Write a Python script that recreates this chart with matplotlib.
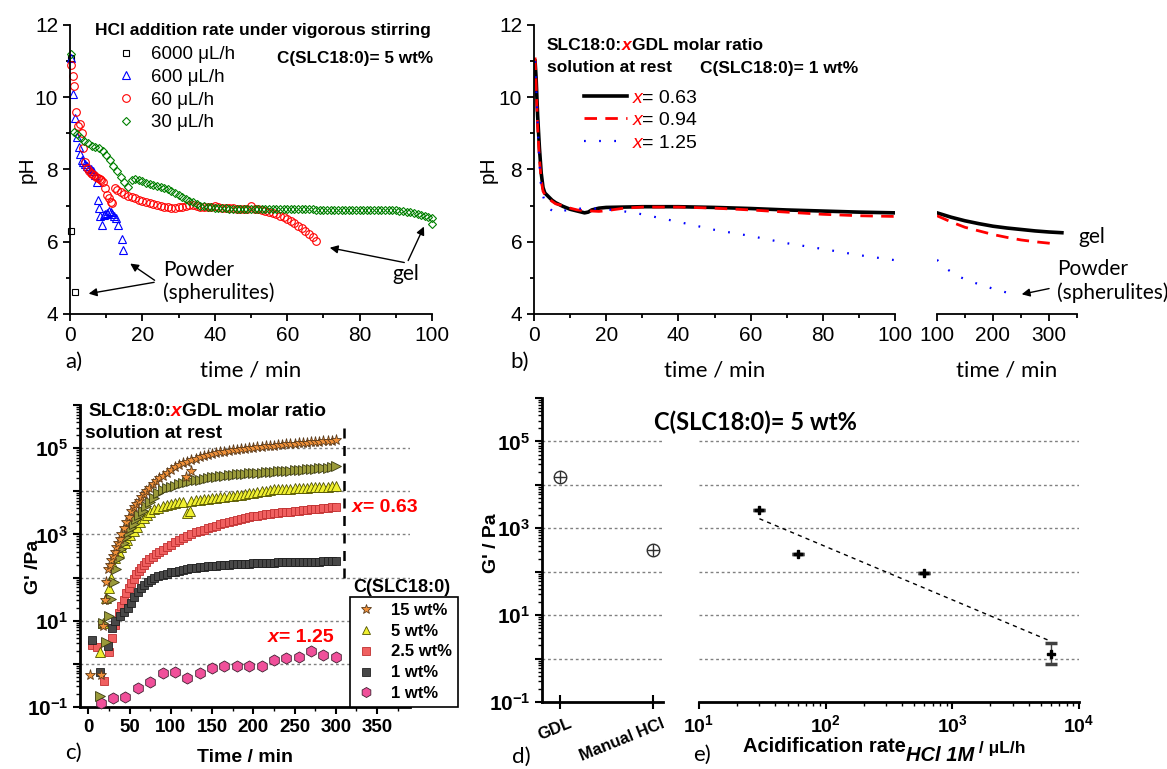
import numpy as np
import matplotlib
matplotlib.use('Agg')
import matplotlib.pyplot as plt
from matplotlib.ticker import MultipleLocator, LogLocator, NullFormatter, FuncFormatter, FixedLocator

W, H = 1167, 769
plt.rcParams['font.family'] = ['Liberation Sans', 'DejaVu Sans']
plt.rcParams['mathtext.fontset'] = 'custom'
plt.rcParams['mathtext.rm'] = 'Liberation Sans'
plt.rcParams['mathtext.bf'] = 'Liberation Sans:bold'
plt.rcParams['mathtext.it'] = 'Liberation Sans:italic'
CAL = ['Lato', 'DejaVu Sans']

# ---------------- a) pH vs time, HCl addition rate ----------------
t6000 = [0.2, 0.4, 1.4]
ph6000 = [11.1, 6.3, 4.6]

t600 = [0.3, 0.9, 1.4, 2.0, 2.5, 2.8, 3.2, 3.7, 4.2, 4.8, 5.3, 5.8, 6.3, 6.8, 7.4,
        7.6, 7.9, 8.3, 8.9, 9.3, 9.8, 10.3, 10.8, 11.2, 11.7, 12.2, 12.7, 13.3, 14.3, 14.7]
ph600 = [11.1, 10.1, 9.42, 8.9, 8.62, 8.43, 8.25, 8.2, 8.15, 8.1, 8.05, 8.0, 7.95, 7.85, 7.66,
         7.15, 6.93, 6.7, 6.46, 6.75, 6.78, 6.8, 6.85, 6.82, 6.78, 6.72, 6.65, 6.47, 6.07, 5.77]

t60 = [0.2, 0.7, 1.2, 1.7, 2.2, 2.7, 3.2, 3.7, 4.2, 4.7, 5.2, 5.7, 6.2, 6.7, 7.2, 7.7, 8.2,
       8.7, 9.2, 9.7, 10.2, 10.7, 11.2, 11.7, 12.4] + list(range(13, 69))
ph60 = [10.9, 10.6, 10.3, 9.6, 9.2, 9.25, 9.0, 8.6, 8.2, 8.05, 7.95, 7.9, 7.88, 7.85, 7.8,
        7.76, 7.73, 7.7, 7.66, 7.5, 7.3, 7.2, 7.1, 7.06, 7.48,
        7.42, 7.37, 7.32, 7.28, 7.24, 7.2, 7.16, 7.13,
        7.1, 7.07, 7.04, 7.01, 6.99, 6.97, 6.95, 6.94, 6.94, 6.95,
        6.97, 6.99, 7.01, 7.01, 6.99, 6.97, 6.96, 6.95, 6.95, 7.0,
        6.95, 6.94, 6.94, 6.93, 6.93, 6.92, 6.92, 6.92, 6.91, 6.98,
        6.91, 6.9, 6.88, 6.86, 6.83, 6.8, 6.76, 6.72, 6.68, 6.64,
        6.58, 6.51, 6.44, 6.37, 6.3, 6.22, 6.12, 6.03]

t30 = [0.2] + list(range(1, 101)) + [100]
ph30 = [11.2,
        9.05, 8.98, 8.88, 8.78, 8.72, 8.66, 8.63, 8.6, 8.52, 8.4,
        8.26, 8.1, 7.95, 7.8, 7.65, 7.52, 7.7, 7.74, 7.7, 7.67,
        7.64, 7.6, 7.57, 7.54, 7.51, 7.48, 7.45, 7.4, 7.35, 7.3,
        7.25, 7.19, 7.14, 7.09, 7.04, 7.0, 6.98, 6.96, 6.95, 6.94,
        6.94, 6.93, 6.93, 6.92, 6.92, 6.92, 6.91, 6.91, 6.91, 6.91,
        6.9, 6.91, 6.9, 6.9, 6.91, 6.9, 6.9, 6.9, 6.9, 6.9,
        6.9, 6.91, 6.91, 6.9, 6.9, 6.9, 6.9, 6.89, 6.89, 6.89,
        6.89, 6.89, 6.89, 6.88, 6.88, 6.88, 6.88, 6.88, 6.88, 6.88,
        6.88, 6.87, 6.87, 6.87, 6.87, 6.87, 6.87, 6.87, 6.87, 6.87,
        6.86, 6.85, 6.83, 6.81, 6.79, 6.77, 6.75, 6.72, 6.69, 6.65,
        6.48]

# ---------------- b) pH vs time, GDL ----------------
tb_black = [0.3, 0.6, 1, 1.5, 2, 2.5, 3, 4, 5, 6, 8, 10, 12, 14, 15, 16, 18, 20, 25, 30,
            40, 50, 60, 70, 80, 90, 100]
phb_black = [11.0, 10.5, 9.5, 8.6, 7.9, 7.5, 7.35, 7.25, 7.15, 7.08, 6.98, 6.9, 6.85, 6.8,
             6.82, 6.88, 6.93, 6.95, 6.96, 6.97, 6.97, 6.95, 6.92, 6.88, 6.85, 6.82, 6.8]
tb_red = tb_black
phb_red = [11.1, 10.3, 9.2, 8.3, 7.7, 7.4, 7.3, 7.2, 7.12, 7.05, 7.0, 6.93, 6.88, 6.86,
           6.87, 6.85, 6.84, 6.86, 6.93, 6.96, 6.96, 6.93, 6.88, 6.82, 6.76, 6.72, 6.7]
tb_blue = [0.3, 0.6, 1, 1.5, 2, 3, 4, 6, 8, 10, 15, 20, 25, 30, 40, 50, 60, 70, 80, 90, 100]
phb_blue = [11.0, 10.3, 9.3, 8.2, 7.45, 7.1, 6.93, 6.8, 6.85, 6.9, 6.93, 6.9, 6.84, 6.76,
            6.55, 6.33, 6.16, 5.96, 5.8, 5.63, 5.49]

tb2_black = [100, 125, 150, 175, 200, 225, 250, 275, 300, 323]
phb2_black = [6.8, 6.68, 6.58, 6.5, 6.43, 6.38, 6.34, 6.3, 6.27, 6.25]
tb2_red = [100, 125, 150, 175, 200, 225, 250, 275, 300, 315]
phb2_red = [6.72, 6.55, 6.4, 6.3, 6.2, 6.12, 6.05, 6.0, 5.96, 5.93]
tb2_blue = [100, 120, 140, 160, 180, 200, 230]
phb2_blue = [5.5, 5.22, 5.03, 4.9, 4.8, 4.7, 4.57]
ratios = ['0.63', '0.94', '1.25']

# ---------------- c) G' vs time ----------------
tc15 = [2, 15, 18, 20, 22, 24, 26, 28, 30, 32, 34, 36, 38, 40, 43, 46, 49, 52, 55, 58, 61,
        64, 67, 70, 74, 78, 82, 86, 90, 95, 100, 105, 110, 115, 120, 125, 130, 135, 140,
        145, 150, 155, 160, 165, 170, 175, 180, 185, 190, 195, 200, 205, 210, 215, 220, 225,
        230, 235, 240, 245, 250, 255, 260, 265, 270, 275, 280, 285, 290, 295, 300,
        118, 124]
gc15 = [0.55, 0.55, 7.5, 30, 80, 160, 200, 250, 320, 400, 500, 630, 800, 1000, 1400, 1900,
        2600, 3500, 4300, 5200, 6000, 7200, 8500, 1.0e4, 1.2e4, 1.45e4, 1.7e4, 2.0e4, 2.3e4,
        2.7e4, 3.1e4, 3.6e4, 4.0e4, 4.5e4, 4.9e4, 5.3e4, 5.7e4, 6.1e4, 6.5e4, 6.9e4,
        7.3e4, 7.65e4, 8.0e4, 8.3e4, 8.6e4, 8.9e4, 9.2e4, 9.5e4, 9.8e4, 1.0e5, 1.03e5,
        1.05e5, 1.08e5, 1.1e5, 1.12e5, 1.15e5, 1.17e5, 1.2e5, 1.22e5, 1.25e5, 1.27e5,
        1.3e5, 1.32e5, 1.35e5, 1.37e5, 1.4e5, 1.42e5, 1.45e5, 1.48e5, 1.5e5, 1.55e5,
        2.2e4, 3.0e4]

tc_olive = [14, 18, 21, 25, 28, 31, 34, 37, 40, 43, 46, 49, 52, 55, 58, 62, 66, 70, 75, 80,
            85, 90, 95, 100, 105, 110, 115, 120, 125, 130, 135, 140, 145, 150, 155, 160, 165,
            170, 175, 180, 185, 190, 195, 200, 205, 210, 215, 220, 225, 230, 235, 240, 245,
            250, 255, 260, 265, 270, 275, 280, 285, 290, 295, 300]
gc_olive = [0.18, 8.9, 3.2, 12.6, 32, 79, 160, 280, 450, 630, 890, 1120, 1410, 1780, 2240,
            2820, 3550, 4470, 5620, 7080, 8910, 1.05e4, 1.17e4, 1.26e4, 1.35e4, 1.45e4, 1.55e4,
            1.62e4, 1.7e4, 1.78e4, 1.86e4, 1.95e4, 2.02e4, 2.09e4, 2.16e4, 2.24e4, 2.29e4,
            2.34e4, 2.4e4, 2.45e4, 2.51e4, 2.57e4, 2.6e4, 2.63e4, 2.66e4, 2.69e4, 2.75e4,
            2.82e4, 2.85e4, 2.88e4, 2.92e4, 2.95e4, 3.02e4, 3.09e4, 3.12e4, 3.16e4, 3.24e4,
            3.31e4, 3.35e4, 3.39e4, 3.47e4, 3.55e4, 3.65e4, 3.8e4]

tc5 = [14, 18, 22, 25, 28, 30, 33, 37, 40, 44, 47, 51, 55, 59, 63, 67, 71, 75, 80, 85, 90,
       95, 100, 105, 110, 115, 120, 123, 125, 130, 135, 140, 145, 150, 155, 160, 165, 170,
       175, 180, 185, 190, 195, 200, 205, 210, 215, 220, 225, 230, 235, 240, 245, 250, 255,
       260, 265, 270, 275, 280, 285, 290, 295, 300]
gc5 = [1.9, 8.9, 34, 56, 100, 200, 280, 400, 500, 630, 760, 950, 1200, 1510, 1900, 2400,
       2880, 3310, 3800, 4170, 4470, 4700, 5010, 5250, 5500, 5750, 3160, 3550, 6030, 6310,
       6450, 6610, 6760, 6920, 7080, 7240, 7410, 7590, 7850, 8130, 8420, 8710, 9020, 9330,
       9660, 1.0e4, 1.03e4, 1.07e4, 1.1e4, 1.12e4, 1.13e4, 1.15e4, 1.16e4, 1.17e4, 1.19e4,
       1.2e4, 1.22e4, 1.23e4, 1.25e4, 1.26e4, 1.28e4, 1.29e4, 1.31e4, 1.32e4]

tc25 = [5, 10, 19, 25, 29, 33, 37, 40, 43, 46, 49, 52, 55, 58, 61, 64, 67, 70, 74, 78, 82,
        86, 90, 95, 100, 105, 110, 115, 120, 125, 130, 135, 140, 145, 150, 155, 160, 165,
        170, 175, 180, 185, 190, 195, 200, 205, 210, 215, 220, 225, 230, 235, 240, 245, 250,
        255, 260, 265, 270, 275, 280, 285, 290, 295, 300]
gc25 = [2.8, 2.4, 0.39, 1.9, 4.0, 8.1, 15.5, 22.4, 30.9, 44.7, 56, 74, 95, 120, 145, 170,
        195, 224, 263, 302, 347, 389, 437, 501, 575, 661, 741, 832, 933, 1020, 1120, 1200,
        1290, 1380, 1480, 1590, 1700, 1820, 1950, 2070, 2190, 2290, 2400, 2510, 2630, 2720,
        2820, 2920, 3020, 3090, 3160, 3230, 3310, 3390, 3470, 3550, 3630, 3710, 3800, 3890,
        3980, 4070, 4170, 4270, 4370]

tc1 = [4, 14, 24, 29, 33, 38, 43, 48, 52, 56, 60, 64, 68, 72, 76, 80, 85, 90, 95, 100, 105,
       110, 115, 120, 125, 130, 135, 140, 145, 150, 155, 160, 165, 170, 175, 180, 185, 190,
       195, 200, 205, 210, 215, 220, 225, 230, 235, 240, 245, 250, 255, 260, 265, 270, 275,
       280, 285, 290, 295, 300]
gc1 = [3.6, 0.65, 2.6, 6.9, 10, 12.6, 15.8, 20, 26, 35, 46, 58, 69, 79, 89, 98, 107, 115,
       123, 132, 138, 145, 151, 158, 164, 170, 174, 178, 182, 186, 190, 195, 197, 200, 202,
       204, 207, 209, 211, 214, 216, 219, 219, 219, 222, 224, 224, 224, 227, 229, 229, 229,
       232, 234, 234, 234, 237, 240, 240, 240]

tc1b = [15, 30, 45, 60, 75, 90, 105, 120, 135, 150, 165, 180, 195, 210, 225, 240, 255, 270,
        285, 300]
gc1b = [0.126, 0.16, 0.17, 0.275, 0.37, 0.62, 0.66, 0.47, 0.63, 0.79, 0.89, 0.89, 0.89,
        0.89, 1.2, 1.38, 1.41, 1.95, 1.62, 1.48]

c_labels = ['15 wt%', '5 wt%', '2.5 wt%', '1 wt%', '1 wt%']
cut_time = 310
cut_range = (1e2, 3.2e5)

# ---------------- d) / e) G' vs acidification ----------------
methods = ['GDL', 'Manual HCl']
g_method = [15500, 316]
rates = [30, 60, 600, 6000]
g_rate = [2700, 260, 93, 1.25]
g_rate_lo = [0, 0, 0, 0.5]
g_rate_hi = [0, 0, 0, 1.05]
fit_rate = [30, 6000]
fit_g = [1660, 2.5]
grid_levels = [1, 10, 1e2, 1e3, 1e4, 1e5]

fig = plt.figure(figsize=(W / 100, H / 100), dpi=100)


def add_ax(x0, y0, x1, y1):
    return fig.add_axes([x0 / W, 1 - y1 / H, (x1 - x0) / W, (y1 - y0) / H])


def ftext(x, y, s, **kw):
    return fig.text(x / W, 1 - y / H, s, **kw)


def chain(ax, prev, s, dy=0, **kw):
    return ax.annotate(s, xy=(1, 0), xycoords=prev, xytext=(0, dy), textcoords='offset points',
                       va='bottom', ha='left', annotation_clip=False, zorder=10, **kw)


def log_label(v, pos):
    e = int(round(np.log10(v)))
    return r'$\mathbf{10^{%d}}$' % e if e % 2 else ''


def log_axis(axis):
    axis.set_major_locator(LogLocator(base=10, numticks=20))
    axis.set_minor_locator(LogLocator(base=10, subs=np.arange(2, 10), numticks=20))
    axis.set_minor_formatter(NullFormatter())


# ======== panel a ========
ax = add_ax(70, 25, 432, 314)
mk = dict(ls='none', mfc='none', mew=0.8, clip_on=False)
ax.plot(t6000, ph6000, marker='s', ms=4.5, mec='black', label='6000 μL/h', **mk)
ax.plot(t600, ph600, marker='^', ms=5.5, mec='#0000ff', label='600 μL/h', **mk)
ax.plot(t60, ph60, marker='o', ms=5.5, mec='#ff0000', label='60 μL/h', **mk)
ax.plot(t30, ph30, marker='D', ms=4.5, mec='#008000', label='30 μL/h', **mk)
ax.set_xlim(0, 100)
ax.set_ylim(4, 12)
ax.xaxis.set_major_locator(MultipleLocator(20))
ax.xaxis.set_minor_locator(MultipleLocator(10))
ax.yaxis.set_major_locator(MultipleLocator(2))
ax.yaxis.set_minor_locator(MultipleLocator(1))
for s in ['top', 'right']:
    ax.spines[s].set_visible(False)
for s in ['left', 'bottom']:
    ax.spines[s].set_linewidth(1.3)
ax.tick_params(direction='out', labelsize=15, width=1.3, length=5)
ax.tick_params(which='minor', direction='out', width=1.3, length=3)
ax.legend(loc='upper left', bbox_to_anchor=(117 / W, 1 - 46 / H), bbox_transform=fig.transFigure,
          frameon=False, fontsize=13.5, handlelength=1, handletextpad=0.8, labelspacing=0.3,
          borderpad=0, borderaxespad=0)
ftext(95, 31, 'HCl addition rate under vigorous stirring', weight='bold', fontsize=12.5, va='center')
ftext(277, 58, 'C(SLC18:0)= 5 wt%', weight='bold', fontsize=12.3, va='center')
ax.text(25.7, 4.9, 'Powder\n(spherulites)', fontsize=15, family=CAL, va='center', ha='left',
        linespacing=1.15)
arr = dict(arrowstyle='-|>', color='black', lw=1, mutation_scale=12)
ax.annotate('', xy=(16.0, 5.44), xytext=(24.0, 4.89), arrowprops=arr)
ax.annotate('', xy=(4.4, 4.55), xytext=(24.0, 4.89), arrowprops=arr)
ax.text(92.8, 5.1, 'gel', fontsize=15, family=CAL, va='center', ha='center')
ax.annotate('', xy=(71.0, 5.85), xytext=(93.1, 5.41), arrowprops=arr)
ax.annotate('', xy=(98.1, 6.49), xytext=(93.1, 5.41), arrowprops=arr)
ftext(27, 170, 'pH', fontsize=15, rotation=90, ha='center', va='center')
ftext(251, 370, 'time / min', fontsize=16, family=CAL, ha='center', va='center')
ftext(65, 362, 'a)', fontsize=16, family=CAL, ha='left', va='center')

# ======== panel b ========
axb = add_ax(534, 25, 895, 314)
axb2 = add_ax(937, 25, 1077, 314)
sty = [dict(color='black', lw=2.6, ls='-'),
       dict(color='#ff0000', lw=2.0, ls=(0, (4.5, 3))),
       dict(color='#0000ff', lw=1.6, ls=(0, (0.8, 6)))]
h1, = axb.plot(tb_black, phb_black, **sty[0])
h2, = axb.plot(tb_red, phb_red, **sty[1])
h3, = axb.plot(tb_blue, phb_blue, **sty[2])
axb2.plot(tb2_black, phb2_black, **sty[0])
axb2.plot(tb2_red, phb2_red, **sty[1])
axb2.plot(tb2_blue, phb2_blue, **sty[2])
axb.set_xlim(0, 100)
axb2.set_xlim(100, 350)
for a_ in (axb, axb2):
    a_.set_ylim(4, 12)
    for s in ['top', 'right']:
        a_.spines[s].set_visible(False)
    for s in ['left', 'bottom']:
        a_.spines[s].set_linewidth(1.3)
    a_.tick_params(direction='out', labelsize=15, width=1.3, length=5)
    a_.tick_params(which='minor', direction='out', width=1.3, length=3)
axb.xaxis.set_major_locator(MultipleLocator(20))
axb.xaxis.set_minor_locator(MultipleLocator(10))
axb.yaxis.set_major_locator(MultipleLocator(2))
axb.yaxis.set_minor_locator(MultipleLocator(1))
axb2.spines['left'].set_visible(False)
axb2.set_yticks([])
axb2.xaxis.set_major_locator(FixedLocator([100, 200, 300]))
axb2.xaxis.set_minor_locator(FixedLocator([150, 250, 350]))
legb = axb.legend([h1, h2, h3], ['x', 'x', 'x'], loc='upper left',
                  bbox_to_anchor=(584 / W, 1 - 89 / H), bbox_transform=fig.transFigure,
                  frameon=False, fontsize=14, handlelength=2.2, handletextpad=0.3,
                  labelspacing=0.25, borderpad=0, borderaxespad=0)
for txt, r in zip(legb.get_texts(), ratios):
    txt.set_color('red')
    txt.set_style('italic')
    chain(axb, txt, '= ' + r, fontsize=14)
tb1 = ftext(547, 45, 'SLC18:0:', weight='bold', fontsize=12.5, va='center')
tb2 = chain(axb, tb1, 'x', weight='bold', style='italic', color='red', fontsize=12.5)
chain(axb, tb2, 'GDL molar ratio', weight='bold', fontsize=12.5)
ftext(547, 68, 'solution at rest', weight='bold', fontsize=12.5, va='center')
ftext(700, 68, 'C(SLC18:0)= 1 wt%', weight='bold', fontsize=12.5, va='center')
ftext(1078, 237, 'gel', fontsize=15, family=CAL, va='center', ha='left')
ftext(1057, 281, 'Powder\n(spherulites)', fontsize=15, family=CAL, va='center', ha='left',
      linespacing=1.15)
axb2.annotate('', xy=(246.4, 4.53), xytext=(305, 4.72), arrowprops=arr, annotation_clip=False)
ftext(488, 170, 'pH', fontsize=15, rotation=90, ha='center', va='center')
ftext(715, 370, 'time / min', fontsize=16, family=CAL, ha='center', va='center')
ftext(1007, 370, 'time / min', fontsize=16, family=CAL, ha='center', va='center')
ftext(510, 362, 'b)', fontsize=16, family=CAL, ha='left', va='center')

# ======== panel c ========
axc = add_ax(80, 405, 410, 707)
axc.set_yscale('log')
cm = dict(ls='none', mew=0.6, clip_on=False)
s1, = axc.plot(tc15, gc15, marker='*', ms=8, mfc='#f0913a', mec='#5a3a1a', zorder=6, **cm)
axc.plot(tc_olive, gc_olive, marker='>', ms=7, mfc='#9a9a3a', mec='#3a3a10', zorder=5, **cm)
s2, = axc.plot(tc5, gc5, marker='^', ms=7, mfc='#f0f030', mec='#505000', zorder=4, **cm)
s3, = axc.plot(tc25, gc25, marker='s', ms=6, mfc='#f06060', mec='#c03030', zorder=3, **cm)
s4, = axc.plot(tc1, gc1, marker='s', ms=6, mfc='#484848', mec='#202020', zorder=3, **cm)
s5, = axc.plot(tc1b, gc1b, marker='h', ms=8, mfc='#f0509a', mec='#402030', zorder=3, **cm)
for lv in grid_levels:
    axc.axhline(lv, color='#808080', lw=1, ls=(0, (2, 2)), zorder=1)
axc.vlines(cut_time, *cut_range, color='black', lw=1.8, ls=(0, (4, 3)), zorder=2)
axc.set_xlim(-10, 390)
axc.set_ylim(1e-1, 1e6)
log_axis(axc.yaxis)
axc.yaxis.set_major_formatter(FuncFormatter(log_label))
axc.xaxis.set_major_locator(MultipleLocator(50))
axc.xaxis.set_minor_locator(MultipleLocator(25))
for s in ['top', 'right']:
    axc.spines[s].set_visible(False)
for s in ['left', 'bottom']:
    axc.spines[s].set_linewidth(2)
axc.tick_params(direction='out', width=1.5, length=5)
axc.tick_params(which='minor', direction='out', width=1, length=3)
axc.tick_params(axis='y', labelsize=15)
axc.tick_params(axis='x', labelsize=13.5)
for lb in axc.get_xticklabels():
    lb.set_fontweight('bold')
axc.legend([s1, s2, s3, s4, s5], c_labels, loc='upper left',
           bbox_to_anchor=(350 / W, 1 - 597 / H), bbox_transform=fig.transFigure,
           frameon=True, fancybox=False, edgecolor='black', framealpha=1,
           prop={'weight': 'bold', 'size': 12}, handlelength=1.2, handletextpad=0.9,
           labelspacing=0.35, borderpad=0.35, borderaxespad=0, markerscale=0.9)
axc.get_legend().get_frame().set_linewidth(1.2)
ftext(353, 588, 'C(SLC18:0)', weight='bold', fontsize=13, va='center', ha='left')
tc1_ = ftext(88, 412, 'SLC18:0:', weight='bold', fontsize=13.8, va='center')
tc2_ = chain(axc, tc1_, 'x', weight='bold', style='italic', color='red', fontsize=13.8)
chain(axc, tc2_, 'GDL molar ratio', weight='bold', fontsize=13.8)
ftext(85, 433, 'solution at rest', weight='bold', fontsize=13.8, va='center')
tx1 = ftext(352, 508, 'x', weight='bold', style='italic', color='red', fontsize=14, va='center')
chain(axc, tx1, '= 0.63', weight='bold', color='red', fontsize=14)
tx2 = ftext(268, 638, 'x', weight='bold', style='italic', color='red', fontsize=14, va='center')
chain(axc, tx2, '= 1.25', weight='bold', color='red', fontsize=14)
ftext(33, 567, "G' /Pa", weight='bold', fontsize=14, rotation=90, ha='center', va='center')
ftext(245, 757, 'Time / min', weight='bold', fontsize=14, ha='center', va='center')
ftext(65, 753, 'c)', fontsize=16, family=CAL, ha='left', va='center')

# ======== panel d ========
axd = add_ax(542, 398, 663, 702)
axd.set_yscale('log')
xd = np.arange(len(methods))
axd.plot(xd, g_method, ls='none', marker='o', ms=9, mfc='white', mec='#303030', mew=1)
axd.plot(xd, g_method, ls='none', marker='+', ms=9, mec='#303030', mew=1)
for lv in grid_levels:
    axd.axhline(lv, color='#808080', lw=1, ls=(0, (2, 2)), zorder=0)
axd.set_xlim(-0.194, 1.108)
axd.set_ylim(1e-1, 1e6)
log_axis(axd.yaxis)
axd.yaxis.set_major_formatter(FuncFormatter(log_label))
axd.set_xticks(xd)
axd.set_xticklabels([])
for xi, name in zip(xd, methods):
    axd.annotate(name, xy=(xi, 0), xycoords=('data', 'axes fraction'), xytext=(10, -10),
                 textcoords='offset points', rotation=22, ha='right', va='top',
                 fontsize=12, weight='bold', annotation_clip=False)
for s in ['top', 'right']:
    axd.spines[s].set_visible(False)
for s in ['left', 'bottom']:
    axd.spines[s].set_linewidth(2)
axd.tick_params(axis='y', direction='out', width=1.5, length=5, labelsize=15)
axd.tick_params(axis='y', which='minor', direction='out', width=1, length=3)
axd.tick_params(axis='x', direction='inout', width=1.5, length=10)
ftext(491, 543, "G' / Pa", weight='bold', fontsize=14, rotation=90, ha='center', va='center')
ftext(755, 422, 'C(SLC18:0)= 5 wt%', weight='bold', fontsize=17, family=CAL, ha='center',
      va='center')
ftext(512, 757, 'd)', fontsize=16, family=CAL, ha='left', va='center')

# ======== panel e ========
axe = add_ax(699, 398, 1079, 702)
axe.set_xscale('log')
axe.set_yscale('log')
axe.errorbar(rates, g_rate, yerr=[g_rate_lo, g_rate_hi], fmt='P', ms=6, color='black',
             ecolor='#404040', elinewidth=1, capsize=4, capthick=2.5)
axe.plot(fit_rate, fit_g, color='black', lw=1, ls=(0, (3, 3)))
for lv in grid_levels:
    axe.axhline(lv, color='#808080', lw=1, ls=(0, (2, 2)), zorder=0)
axe.set_xlim(10, 1e4)
axe.set_ylim(1e-1, 1e6)
log_axis(axe.xaxis)
axe.xaxis.set_major_formatter(FuncFormatter(
    lambda v, p: r'$\mathbf{10^{%d}}$' % int(round(np.log10(v)))))
axe.set_yticks([])
axe.yaxis.set_minor_locator(matplotlib.ticker.NullLocator())
for s in ['top', 'right', 'left']:
    axe.spines[s].set_visible(False)
axe.spines['bottom'].set_linewidth(2)
axe.tick_params(axis='x', direction='out', width=1.5, length=5, labelsize=14)
axe.tick_params(axis='x', which='minor', direction='out', width=1, length=3)
te1 = ftext(743, 747, 'Acidification rate', weight='bold', fontsize=14.5, va='center')
te2 = chain(axe, te1, 'HCl 1M', dy=-6, weight='bold', style='italic', fontsize=14.5)
axe.annotate(' / μL/h', xy=(1, 0), xycoords=(te2, te1), va='bottom', ha='left',
             fontsize=12.5, weight='bold', annotation_clip=False, zorder=10)
ftext(693, 755, 'e)', fontsize=16, family=CAL, ha='left', va='center')

fig.savefig('out.png', dpi=100)
